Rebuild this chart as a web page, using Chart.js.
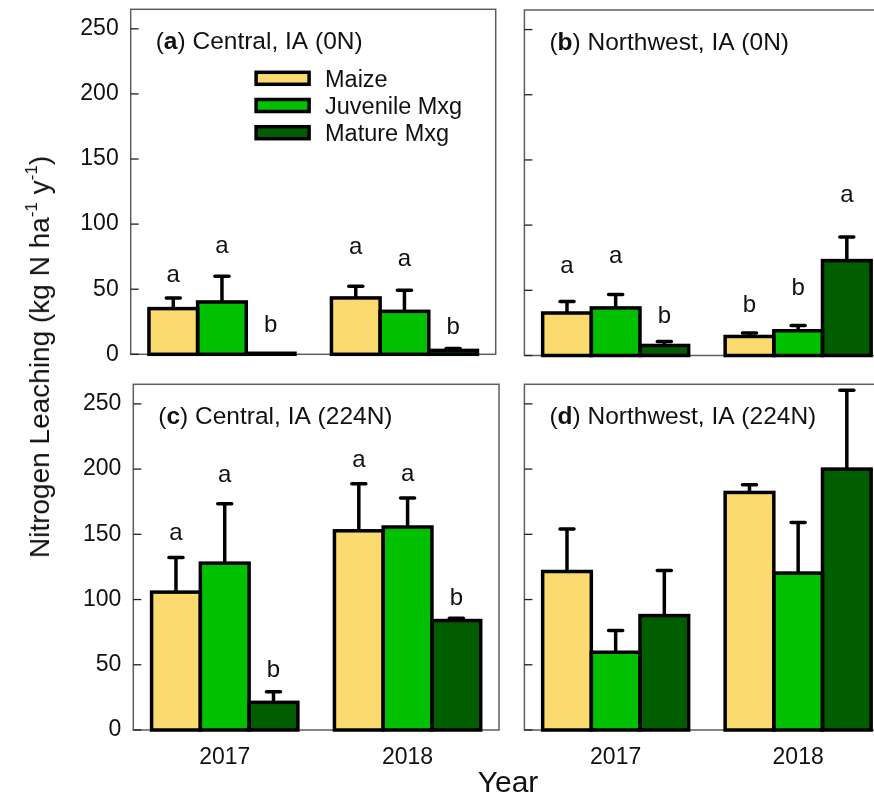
<!DOCTYPE html>
<html>
<head>
<meta charset="utf-8">
<script src="https://cdn.jsdelivr.net/npm/chart.js@4.4.1/dist/chart.umd.min.js"></script>
<style>
  body { margin: 0; width: 874px; height: 799px; overflow: hidden; background: #fff; position: relative;
         font-family: "Liberation Sans", Arial, sans-serif; color: #111; }
  canvas { position: absolute; }
  .ytitle { position: absolute; left: 40px; top: 357px; transform: translate(-50%, -50%) rotate(-90deg);
            font-size: 28px; white-space: nowrap; line-height: 1; }
  .ytitle sup { font-size: 17px; position: relative; top: -3px; vertical-align: top; }
  .xtitle { position: absolute; left: 508px; top: 767px; transform: translateX(-50%); font-size: 30px; line-height: 1; }
</style>
</head>
<body>
<canvas id="panelA"></canvas>
<canvas id="panelB"></canvas>
<canvas id="panelC"></canvas>
<canvas id="panelD"></canvas>
<div class="ytitle">Nitrogen Leaching (kg N ha<sup>-1</sup> y<sup>-1</sup>)</div>
<div class="xtitle">Year</div>

<script>
const years = ["2017", "2018"];
const seriesNames = ["Maize", "Juvenile Mxg", "Mature Mxg"];
const seriesColors = ["#fbdb6f", "#00c000", "#005e00"];
const yTicks = [0, 50, 100, 150, 200, 250];
const yMax = 265;

// rows: maize, juvenile mxg, mature mxg ; columns: 2017, 2018

// (a) Central, IA (0N)
const aMeans = [[35.1, 43.3], [40.2, 33.0], [0.8, 3.0]];
const aSE = [[8.2, 9.0], [19.8, 16.2], [0, 1.4]];
const aLetters = [["a", "a"], ["a", "a"], ["b", "b"]];
const aLetterAt = [[55.8, 77.3], [77.5, 68.0], [17.3, 15.8]];

// (b) Northwest, IA (0N)
const bMeans = [[32.6, 14.6], [36.5, 19.0], [7.7, 72.8]];
const bSE = [[8.9, 2.6], [10.2, 4.0], [3.1, 18.0]];
const bLetters = [["a", "b"], ["a", "b"], ["b", "a"]];
const bLetterAt = [[63.5, 33.0], [71.2, 46.1], [25.3, 117.8]];

// (c) Central, IA (224N)
const cMeans = [[105.7, 152.7], [127.9, 155.6], [21.2, 83.9]];
const cSE = [[26.5, 36.1], [45.5, 22.2], [8.2, 1.8]];
const cLetters = [["a", "a"], ["a", "a"], ["b", "b"]];
const cLetterAt = [[146.0, 201.7], [190.0, 191.2], [40.8, 95.8]];

// (d) Northwest, IA (224N)
const dMeans = [[121.5, 182.1], [59.6, 120.3], [87.7, 200.0]];
const dSE = [[32.5, 5.9], [16.6, 38.8], [34.6, 60.4]];

const FONT = '"Liberation Sans", Arial, sans-serif';
const axisH = 45;

const panelDecor = {
    id: "panelDecor",
    beforeDatasetsDraw(chart, args, opts) {
        const a = chart.chartArea;
        const ctx = chart.ctx;
        const y = chart.scales.y;
        ctx.save();
        ctx.strokeStyle = "#5e5e5e";
        ctx.lineWidth = 1.5;
        ctx.strokeRect(a.left, a.top, a.right - a.left, a.bottom - a.top);
        ctx.strokeStyle = "#222";
        ctx.lineWidth = 1.3;
        yTicks.forEach(v => {
            const py = y.getPixelForValue(v);
            ctx.beginPath();
            ctx.moveTo(a.left, py);
            ctx.lineTo(a.left + 8, py);
            ctx.stroke();
        });
        ctx.restore();
    },
    afterDatasetsDraw(chart, args, opts) {
        const a = chart.chartArea;
        const ctx = chart.ctx;
        const y = chart.scales.y;
        ctx.save();
        ctx.strokeStyle = "#000";

        chart.data.datasets.forEach((ds, i) => {
            const meta = chart.getDatasetMeta(i);
            meta.data.forEach((bar, j) => {
                const p = bar.getProps(["x", "y", "base", "width"], true);
                const se = ds.se[j];
                if (se > 0) {
                    const top = y.getPixelForValue(ds.data[j] + se);
                    ctx.lineWidth = 3.5;
                    ctx.lineCap = "butt";
                    ctx.beginPath();
                    ctx.moveTo(p.x, p.y);
                    ctx.lineTo(p.x, top);
                    ctx.stroke();
                    ctx.lineCap = "round";
                    ctx.beginPath();
                    ctx.moveTo(p.x - 7, top);
                    ctx.lineTo(p.x + 7, top);
                    ctx.stroke();
                }
                ctx.lineWidth = 3.5;
                ctx.lineCap = "butt";
                ctx.lineJoin = "miter";
                ctx.strokeRect(p.x - p.width / 2, p.y, p.width, p.base - p.y);

                if (ds.letters) {
                    ctx.fillStyle = "#111";
                    ctx.font = "24px " + FONT;
                    ctx.textAlign = "center";
                    ctx.textBaseline = "alphabetic";
                    ctx.fillText(ds.letters[j], p.x, y.getPixelForValue(ds.letterAt[j]));
                }
            });
        });

        // panel title, letter in bold
        ctx.fillStyle = "#111";
        ctx.textAlign = "left";
        ctx.textBaseline = "alphabetic";
        let tx = a.left + 25;
        const ty = a.top + 40;
        ctx.font = "24.5px " + FONT;
        ctx.fillText("(", tx, ty);
        tx += ctx.measureText("(").width;
        ctx.font = "bold 24.5px " + FONT;
        ctx.fillText(opts.tag, tx, ty);
        tx += ctx.measureText(opts.tag).width;
        ctx.font = "24.5px " + FONT;
        ctx.fillText(") " + opts.title, tx, ty);

        if (opts.legend) {
            chart.data.datasets.forEach((ds, i) => {
                const cy = a.top + 69 + i * 27.2;
                const bx = a.left + 125.4;
                ctx.fillStyle = ds.backgroundColor;
                ctx.fillRect(bx, cy - 6, 53, 12);
                ctx.lineWidth = 3.5;
                ctx.strokeStyle = "#000";
                ctx.strokeRect(bx, cy - 6, 53, 12);
                ctx.fillStyle = "#111";
                ctx.font = "23.5px " + FONT;
                ctx.fillText(ds.label, a.left + 194.3, cy + 8.5);
            });
        }
        ctx.restore();
    }
};

function makePanel(id, box, means, se, letters, letterAt, tag, title, opts) {
    const canvas = document.getElementById(id);
    canvas.width = box.w;
    canvas.height = box.h;
    canvas.style.left = box.left + "px";
    canvas.style.top = box.top + "px";

    new Chart(canvas, {
        type: "bar",
        data: {
            labels: years,
            datasets: seriesNames.map((name, i) => ({
                label: name,
                data: means[i],
                backgroundColor: seriesColors[i],
                borderWidth: 0,
                se: se[i],
                letters: letters ? letters[i] : null,
                letterAt: letterAt ? letterAt[i] : null
            }))
        },
        options: {
            responsive: false,
            animation: false,
            devicePixelRatio: 1,
            categoryPercentage: 0.8,
            barPercentage: 1,
            layout: {
                padding: {
                    left: 0,
                    top: box.plotTop - box.top,
                    right: box.left + box.w - box.plotRight,
                    bottom: box.top + box.h - box.plotBottom - axisH
                }
            },
            plugins: {
                legend: { display: false },
                tooltip: { enabled: false },
                panelDecor: { tag: tag, title: title, legend: opts.legend }
            },
            scales: {
                x: {
                    grid: { display: false, drawTicks: false },
                    border: { display: false },
                    ticks: { display: opts.xLabels, color: "#111", padding: 14, font: { family: FONT, size: 23 } },
                    afterFit: s => { s.height = axisH; s.paddingLeft = 0; s.paddingRight = 0; }
                },
                y: {
                    min: 0,
                    max: yMax,
                    afterBuildTicks: s => { s.ticks = yTicks.map(v => ({ value: v })); },
                    grid: { display: false, drawTicks: false },
                    border: { display: false },
                    ticks: { display: opts.yLabels, color: "#111", padding: 12, font: { family: FONT, size: 23 } },
                    afterFit: s => { s.width = box.plotLeft - box.left; s.paddingTop = 0; s.paddingBottom = 0; }
                }
            }
        },
        plugins: [panelDecor]
    });
}

makePanel("panelA",
    { left: 0, top: 0, w: 510, h: 400, plotLeft: 130.7, plotTop: 9.3, plotRight: 495.7, plotBottom: 354.3 },
    aMeans, aSE, aLetters, aLetterAt, "a", "Central, IA (0N)",
    { legend: true, xLabels: false, yLabels: true });

makePanel("panelB",
    { left: 500, top: 0, w: 400, h: 400, plotLeft: 524.4, plotTop: 10, plotRight: 889.4, plotBottom: 355.5 },
    bMeans, bSE, bLetters, bLetterAt, "b", "Northwest, IA (0N)",
    { legend: false, xLabels: false, yLabels: false });

makePanel("panelC",
    { left: 0, top: 370, w: 510, h: 430, plotLeft: 133.3, plotTop: 384.3, plotRight: 499, plotBottom: 730 },
    cMeans, cSE, cLetters, cLetterAt, "c", "Central, IA (224N)",
    { legend: false, xLabels: true, yLabels: true });

makePanel("panelD",
    { left: 500, top: 370, w: 400, h: 430, plotLeft: 524.4, plotTop: 384.3, plotRight: 889.4, plotBottom: 730 },
    dMeans, dSE, null, null, "d", "Northwest, IA (224N)",
    { legend: false, xLabels: true, yLabels: false });
</script>
</body>
</html>
